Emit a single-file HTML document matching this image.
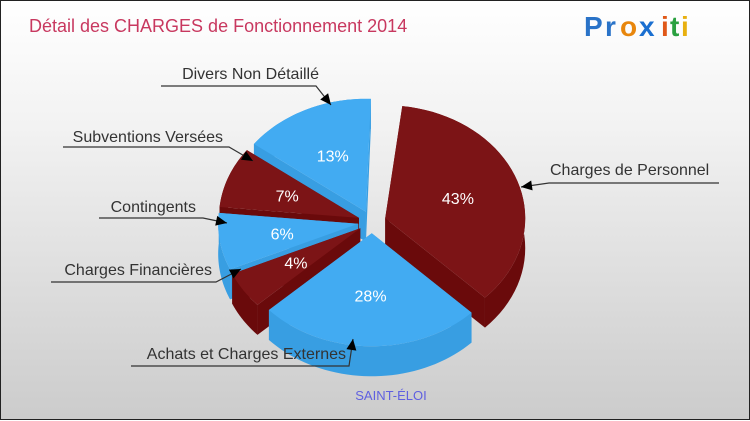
<!DOCTYPE html>
<html><head><meta charset="utf-8"><style>
html,body{margin:0;padding:0;}
body{width:750px;height:420px;overflow:hidden;font-family:"Liberation Sans",sans-serif;}
#wrap{position:relative;width:748px;height:418px;border:1px solid #222;background:linear-gradient(#fff 0%,#f2f2f2 30%,#d9d9d9 75%,#ccc 100%);}
svg{position:absolute;left:0;top:0;}
</style></head><body>
<div id="wrap">
<svg id="chart" width="750" height="420">
<text x="28" y="31" font-size="18" fill="#c8385f">Détail des CHARGES de Fonctionnement 2014</text>
<g font-size="28" font-weight="bold" font-family="Liberation Sans, sans-serif">
<text x="583" y="35" fill="#2a73c8">P</text><text x="604" y="35" fill="#2a73c8">r</text><text x="619" y="35" fill="#e8860c">o</text><text x="638" y="35" fill="#1a6fd0">x</text><text x="660" y="35" fill="#e05818">i</text><text x="669" y="35" fill="#2aa040">t</text><text x="680" y="35" fill="#e8b010">i</text>
</g>
<g id="slices"></g>
<g id="labels"></g>
<text x="390" y="399" font-size="13" fill="#6060e0" text-anchor="middle">SAINT-ÉLOI</text>
</svg>
</div>
<script>
const categories=["Charges de Personnel","Achats et Charges Externes","Charges Financières","Contingents","Subventions Versées","Divers Non Détaillé"];
const values=[43,28,4,6,7,13];
const pctLabels=["43%","28%","4%","6%","7%","13%"];
const NS="http://www.w3.org/2000/svg";
const cx=371,cy=221,rx=140,ry=113,depth=30,explode=14,startDeg=7;
const warpIn=[0,155,256,270,292,317,360];
const warpOut=[0,129,223,243,273,304,355];
function warp(d){for(let k=1;k<warpIn.length;k++){if(d<=warpIn[k]){const t=(d-warpIn[k-1])/(warpIn[k]-warpIn[k-1]);return warpOut[k-1]+t*(warpOut[k]-warpOut[k-1]);}}return d;}
const colors=[["#7c1416","#6a0a0b"],["#42abf2","#389ee2"]];
const total=values.reduce((a,b)=>a+b,0);
function pt(a,r,ox,oy,dy){return [ox+r*rx*Math.sin(a),oy-r*ry*Math.cos(a)+(dy||0)];}
function mk(tag,attrs,parent){const e=document.createElementNS(NS,tag);for(const k in attrs)e.setAttribute(k,attrs[k]);parent.appendChild(e);return e;}
const gS=document.getElementById('slices'),gL=document.getElementById('labels');
let acc=0;const sl=[];
const rad=d=>(d+startDeg)*Math.PI/180;
values.forEach((v,i)=>{const d0=acc/total*360;acc+=v;const d1=acc/total*360;const a0=rad(warp(d0)),a1=rad(warp(d1));sl.push({i,a0,a1,m:(a0+a1)/2});});
function arc(a0,a1,ox,oy,dy,rev){const n=40,p=[];for(let k=0;k<=n;k++){const t=rev?a1-(a1-a0)*k/n:a0+(a1-a0)*k/n;p.push(pt(t,1,ox,oy,dy));}return p;}
const order=[...sl].sort((a,b)=>Math.cos(b.m)-Math.cos(a.m));
order.forEach(s=>{
 const ox=cx+explode*Math.sin(s.m),oy=cy-explode*Math.cos(s.m)*ry/rx;
 const c=colors[s.i%2];
 const g=mk('g',{},gS);
 
 
 const sides=[];
 [s.a0,s.a1].forEach(a=>{const p=pt(a,1,ox,oy,0);sides.push([[ox,oy],p,[p[0],p[1]+depth],[ox,oy+depth]]);});
 const top=arc(s.a0,s.a1,ox,oy,0,false),bot=arc(s.a0,s.a1,ox,oy,depth,true);
 sides.push(top.concat(bot));
 sides.forEach(poly=>mk('polygon',{points:poly.map(p=>p.join(',')).join(' '),fill:c[1]},g));
 const face=[[ox,oy]].concat(top);
 mk('polygon',{points:face.map(p=>p.join(',')).join(' '),fill:c[0]},g);
 const lp=pt(s.m,0.55,ox,oy,0);
 const t=mk('text',{x:lp[0],y:lp[1]+6,'font-size':16,fill:'#fff','text-anchor':'middle'},g);
 t.textContent=pctLabels[s.i];
});
const callouts=[
 {tx:549,ty:174,lx1:718,lx2:548,ly:182,ax:520,ay:186,anchor:'start'},
 {tx:345,ty:358,lx1:130,lx2:348,ly:365,ax:352,ay:338,anchor:'end'},
 {tx:211,ty:274,lx1:50,lx2:215,ly:281,ax:240,ay:268,anchor:'end'},
 {tx:195,ty:211,lx1:98,lx2:202,ly:217,ax:226,ay:222,anchor:'end'},
 {tx:222,ty:141,lx1:62,lx2:228,ly:146,ax:252,ay:160,anchor:'end'},
 {tx:318,ty:78,lx1:160,lx2:315,ly:85,ax:330,ay:104,anchor:'end'}];
callouts.forEach((c,i)=>{
 const g=mk('g',{},gL);
 
 
 mk('polyline',{points:`${c.lx1},${c.ly} ${c.lx2},${c.ly} ${c.ax},${c.ay}`,fill:'none',stroke:'#333','stroke-width':1.2},g);
 const dx=c.ax-c.lx2,dy=c.ay-c.ly,L=Math.hypot(dx,dy),ux=dx/L,uy=dy/L;
 const bx=c.ax-ux*11,by=c.ay-uy*11;
 mk('polygon',{points:`${c.ax},${c.ay} ${bx-uy*5},${by+ux*5} ${bx+uy*5},${by-ux*5}`,fill:'#000'},g);
 const t=mk('text',{x:c.tx,y:c.ty,'font-size':16,fill:'#333','text-anchor':c.anchor},g);
 t.textContent=categories[i];
});
</script>
</body></html>
